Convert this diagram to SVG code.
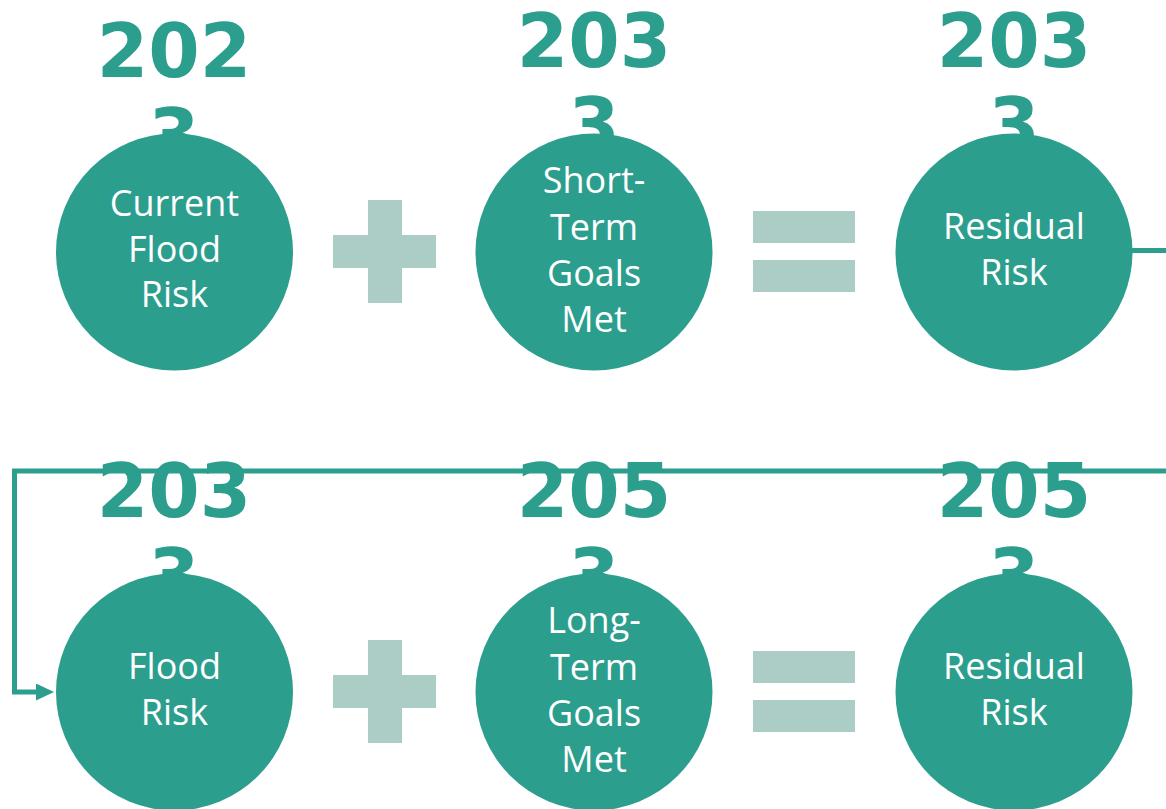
<svg xmlns="http://www.w3.org/2000/svg" width="1166" height="809" viewBox="0 0 1166 809">
<style>
.circ{fill:#2C9E8D}
.yr{font-family:"DejaVu Sans",sans-serif;font-weight:bold;font-size:74px;fill:#2C9E8D;text-anchor:middle}
.lbl{font-family:"Open Sans",sans-serif;font-size:36px;fill:#FFFFFF;text-anchor:middle}
.op{fill:#ACCDC6}
.conn{fill:none;stroke:#2C9E8D;stroke-width:5}
</style>
<defs>
<marker id="arr" markerWidth="18" markerHeight="18" refX="0" refY="8.5" orient="auto" markerUnits="userSpaceOnUse">
<path d="M0,0 L18,8.5 L0,17 Z" fill="#2C9E8D"/>
</marker>
</defs>
<rect width="1166" height="809" fill="#FFFFFF"/>
<g id="connectors">
<line class="conn" x1="1132" y1="250.5" x2="1166" y2="250.5"/>
<path class="conn" d="M1166,471 L14.5,471 L14.5,692 L36,692" marker-end="url(#arr)"/>
</g>
<g id="node-current-flood-risk">
<text class="yr" x="174" y="77">202</text>
<text class="yr" x="174" y="162">3</text>
<circle class="circ" cx="174.5" cy="252" r="118.5"/>
<text class="lbl" x="174.5" y="216">Current</text>
<text class="lbl" x="174.5" y="262">Flood</text>
<text class="lbl" x="174.5" y="307">Risk</text>
</g>
<g id="op-plus-1">
<rect class="op" x="368" y="200" width="34" height="103"/>
<rect class="op" x="333" y="235" width="103" height="33"/>
</g>
<g id="node-short-term">
<text class="yr" x="594" y="67">203</text>
<text class="yr" x="594" y="151">3</text>
<circle class="circ" cx="594" cy="252" r="118.5"/>
<text class="lbl" x="594" y="193">Short-</text>
<text class="lbl" x="594" y="240">Term</text>
<text class="lbl" x="594" y="286">Goals</text>
<text class="lbl" x="594" y="332">Met</text>
</g>
<g id="op-equals-1">
<rect class="op" x="753" y="211" width="102" height="32"/>
<rect class="op" x="753" y="260" width="102" height="32"/>
</g>
<g id="node-residual-1">
<text class="yr" x="1014" y="67">203</text>
<text class="yr" x="1014" y="151">3</text>
<circle class="circ" cx="1014" cy="252" r="118.5"/>
<text class="lbl" x="1014" y="239">Residual</text>
<text class="lbl" x="1014" y="285">Risk</text>
</g>
<g id="node-flood-risk">
<text class="yr" x="174" y="517">203</text>
<text class="yr" x="174" y="602">3</text>
<circle class="circ" cx="174.5" cy="692" r="118.5"/>
<text class="lbl" x="174.5" y="679">Flood</text>
<text class="lbl" x="174.5" y="725">Risk</text>
</g>
<g id="op-plus-2">
<rect class="op" x="368" y="640" width="34" height="103"/>
<rect class="op" x="333" y="675" width="103" height="33"/>
</g>
<g id="node-long-term">
<text class="yr" x="594" y="517">205</text>
<text class="yr" x="594" y="602">3</text>
<circle class="circ" cx="594" cy="692" r="118.5"/>
<text class="lbl" x="594" y="633">Long-</text>
<text class="lbl" x="594" y="680">Term</text>
<text class="lbl" x="594" y="726">Goals</text>
<text class="lbl" x="594" y="772">Met</text>
</g>
<g id="op-equals-2">
<rect class="op" x="753" y="651" width="102" height="32"/>
<rect class="op" x="753" y="700" width="102" height="32"/>
</g>
<g id="node-residual-2">
<text class="yr" x="1014" y="517">205</text>
<text class="yr" x="1014" y="602">3</text>
<circle class="circ" cx="1014" cy="692" r="118.5"/>
<text class="lbl" x="1014" y="679">Residual</text>
<text class="lbl" x="1014" y="725">Risk</text>
</g>
</svg>
